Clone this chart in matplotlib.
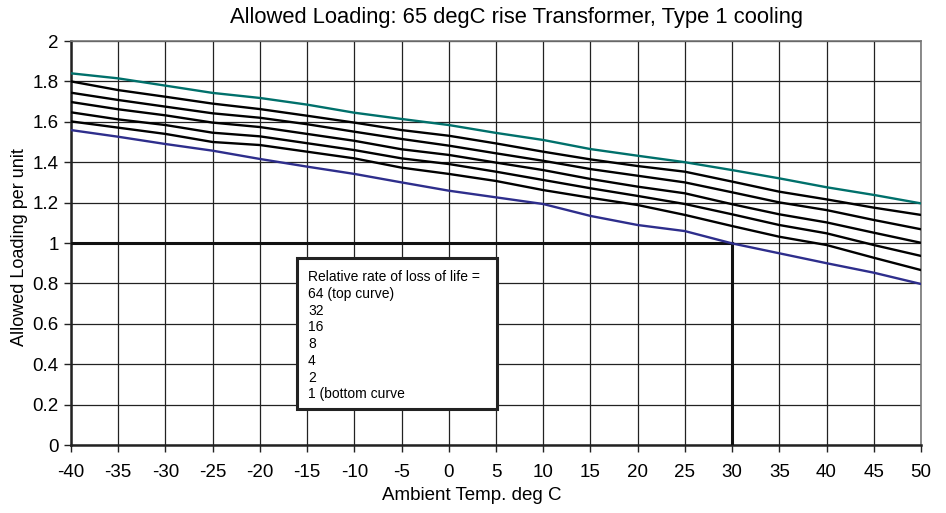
import matplotlib
matplotlib.use("Agg")
import matplotlib.pyplot as plt
from matplotlib.patches import Rectangle

plt.rcParams['font.family'] = ['Liberation Sans', 'DejaVu Sans']

# Ambient temperature (deg C)
temps = [-40, -35, -30, -25, -20, -15, -10, -5, 0, 5, 10, 15, 20, 25, 30, 35, 40, 45, 50]

# Allowed loading (per unit) for each relative rate of loss of life
load_64 = [1.84, 1.815, 1.779, 1.743, 1.718, 1.685, 1.645, 1.614, 1.584, 1.545, 1.51, 1.465, 1.432, 1.40, 1.361, 1.32, 1.276, 1.238, 1.196]
load_32 = [1.80, 1.757, 1.724, 1.69, 1.663, 1.63, 1.596, 1.559, 1.531, 1.493, 1.452, 1.414, 1.381, 1.353, 1.304, 1.254, 1.216, 1.175, 1.139]
load_16 = [1.744, 1.708, 1.675, 1.642, 1.62, 1.588, 1.551, 1.515, 1.482, 1.444, 1.407, 1.366, 1.333, 1.30, 1.251, 1.201, 1.163, 1.114, 1.068]
load_8 = [1.698, 1.662, 1.632, 1.596, 1.574, 1.54, 1.506, 1.464, 1.436, 1.398, 1.361, 1.317, 1.279, 1.246, 1.192, 1.142, 1.102, 1.051, 1.001]
load_4 = [1.647, 1.612, 1.584, 1.546, 1.528, 1.494, 1.46, 1.419, 1.391, 1.353, 1.312, 1.271, 1.233, 1.193, 1.142, 1.089, 1.048, 0.99, 0.936]
load_2 = [1.602, 1.571, 1.54, 1.50, 1.485, 1.452, 1.419, 1.373, 1.342, 1.307, 1.262, 1.224, 1.188, 1.139, 1.084, 1.031, 0.99, 0.927, 0.866]
load_1 = [1.559, 1.526, 1.49, 1.457, 1.416, 1.378, 1.342, 1.30, 1.259, 1.226, 1.193, 1.134, 1.089, 1.059, 0.998, 0.949, 0.90, 0.853, 0.797]

# Reference marker: 1.0 per unit at 30 deg C
ref_temp = 30
ref_load = 1.0

x_ticks = list(range(-40, 51, 5))
y_ticks = [0, 0.2, 0.4, 0.6, 0.8, 1, 1.2, 1.4, 1.6, 1.8, 2]
y_tick_labels = ['0', '0.2', '0.4', '0.6', '0.8', '1', '1.2', '1.4', '1.6', '1.8', '2']

legend_lines = [
    "Relative rate of loss of life =",
    "64 (top curve)",
    "32",
    "16",
    "8",
    "4",
    "2",
    "1 (bottom curve",
]

W, H = 946, 513
fig = plt.figure(figsize=(W / 100, H / 100), dpi=100)
ax = fig.add_axes([71 / W, 1 - 445 / H, 850 / W, 404 / H])

ax.set_xlim(-40, 50)
ax.set_ylim(0, 2)
ax.set_xticks(x_ticks)
ax.set_xticklabels([str(t) for t in x_ticks], fontsize=13.5)
ax.set_yticks(y_ticks)
ax.set_yticklabels(y_tick_labels, fontsize=13.5)
ax.grid(True, color='#222222', linewidth=0.9)
ax.set_axisbelow(True)
ax.tick_params(direction='out', length=5, width=1, color='#222222')
ax.tick_params(axis='x', pad=9)
ax.tick_params(axis='y', pad=4)

for side in ['top', 'right']:
    ax.spines[side].set_color('#777777')
    ax.spines[side].set_linewidth(1.2)
for side in ['left', 'bottom']:
    ax.spines[side].set_color('#222222')
    ax.spines[side].set_linewidth(1.8)

# Reference lines at 1.0 p.u. and 30 deg C
ax.plot([-40, ref_temp], [ref_load, ref_load], color='#111111', linewidth=2.2, zorder=3)
ax.plot([ref_temp, ref_temp], [0, ref_load], color='#111111', linewidth=2.2, zorder=3)

ax.plot(temps, load_64, color='#00706b', linewidth=1.7, zorder=4)
for series in [load_32, load_16, load_8, load_4, load_2]:
    ax.plot(temps, series, color='black', linewidth=1.7, zorder=4)
ax.plot(temps, load_1, color='#2e2e8c', linewidth=1.7, zorder=4)

# Title and axis labels
fig.text(516 / W, 1 - 18 / H, "Allowed Loading: 65 degC rise Transformer, Type 1 cooling",
         fontsize=15.8, ha='center', va='center')
fig.text(472 / W, 1 - 495 / H, "Ambient Temp. deg C",
         fontsize=13.5, ha='center', va='center')
fig.text(20 / W, 1 - 247 / H, "Allowed Loading per unit",
         fontsize=13, ha='center', va='center', rotation=90)

# Annotation box describing the curves
ax.add_patch(Rectangle((-16.05, 0.178), 21.2, 0.748, facecolor='white',
                       edgecolor='#222222', linewidth=2.2, zorder=6))
ax.text(-14.9, 0.866, "\n".join(legend_lines), fontsize=10, linespacing=1.25,
        ha='left', va='top', zorder=7)

fig.savefig("out.png", dpi=100)
